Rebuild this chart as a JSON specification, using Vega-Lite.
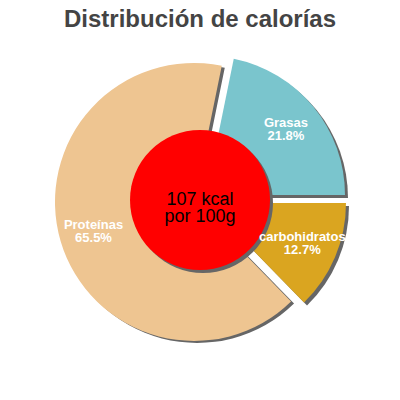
{
  "$schema": "https://vega.github.io/schema/vega-lite/v6.json",
  "width": 400,
  "height": 400,
  "autosize": {"type": "fit", "contains": "padding"},
  "padding": {"top": 8, "bottom": 33, "left": 0, "right": 0},
  "background": "white",
  "title": {
    "text": "Distribución de calorías",
    "font": "Liberation Sans",
    "fontSize": 24,
    "fontWeight": "bold",
    "color": "#444444",
    "offset": 1
  },
  "datasets": {
    "calorias": [
      {"nutriente": "Grasas", "proporcion": 0.218},
      {"nutriente": "carbohidratos", "proporcion": 0.127},
      {"nutriente": "Proteínas", "proporcion": 0.655}
    ],
    "centro": [{"texto": ["107 kcal", "por 100g"]}]
  },
  "layer": [
    {
      "data": {"name": "calorias"},
      "transform": [{"stack": "proporcion", "groupby": [], "as": ["inicio", "fin"]}],
      "encoding": {
        "theta": {"field": "inicio", "type": "quantitative", "scale": {"domain": [0, 1], "range": [0.2011, 6.4843]}},
        "theta2": {"field": "fin"}
      },
      "layer": [
        {"transform": [{"filter": "datum.nutriente === 'Grasas'"}], "mark": {"type": "arc", "radius": 139, "color": "#666666", "xOffset": 9, "yOffset": -2}},
        {"transform": [{"filter": "datum.nutriente === 'carbohidratos'"}], "mark": {"type": "arc", "radius": 139, "color": "#666666", "xOffset": 10, "yOffset": 6}},
        {"transform": [{"filter": "datum.nutriente === 'Proteínas'"}], "mark": {"type": "arc", "radius": 139, "color": "#666666", "xOffset": -3, "yOffset": 4}},
        {"transform": [{"filter": "datum.nutriente === 'Grasas'"}], "mark": {"type": "arc", "radius": 139, "color": "#7AC5CD", "xOffset": 6, "yOffset": -5}},
        {"transform": [{"filter": "datum.nutriente === 'carbohidratos'"}], "mark": {"type": "arc", "radius": 139, "color": "#DAA520", "xOffset": 7, "yOffset": 3}},
        {"transform": [{"filter": "datum.nutriente === 'Proteínas'"}], "mark": {"type": "arc", "radius": 139, "color": "#EEC591", "xOffset": -6, "yOffset": 2}}
      ]
    },
    {
      "data": {"name": "centro"},
      "layer": [
        {"mark": {"type": "arc", "radius": 70, "theta": 0, "theta2": 6.2832, "color": "#666666", "xOffset": 3, "yOffset": 3}},
        {"mark": {"type": "arc", "radius": 70, "theta": 0, "theta2": 6.2832, "color": "#FF0000"}},
        {
          "mark": {"type": "text", "font": "Liberation Sans", "fontSize": 18, "lineHeight": 17, "color": "black", "baseline": "middle"},
          "encoding": {"text": {"field": "texto"}}
        }
      ]
    },
    {
      "data": {"name": "calorias"},
      "transform": [{"stack": "proporcion", "groupby": [], "as": ["inicio", "fin"]}],
      "encoding": {
        "theta": {"field": "proporcion", "type": "quantitative", "stack": true, "scale": {"domain": [0, 1], "range": [0.2011, 6.4843]}},
        "order": {"field": "inicio", "type": "quantitative"},
        "detail": {"field": "nutriente"}
      },
      "layer": [
        {
          "mark": {"type": "text", "radius": 111, "font": "Liberation Sans", "fontSize": 13, "fontWeight": "bold", "color": "white", "baseline": "middle", "dy": -6.5},
          "encoding": {"text": {"field": "nutriente"}}
        },
        {
          "mark": {"type": "text", "radius": 111, "font": "Liberation Sans", "fontSize": 13, "fontWeight": "bold", "color": "white", "baseline": "middle", "dy": 6.5},
          "encoding": {"text": {"field": "proporcion", "format": ".1%"}}
        }
      ]
    }
  ]
}
